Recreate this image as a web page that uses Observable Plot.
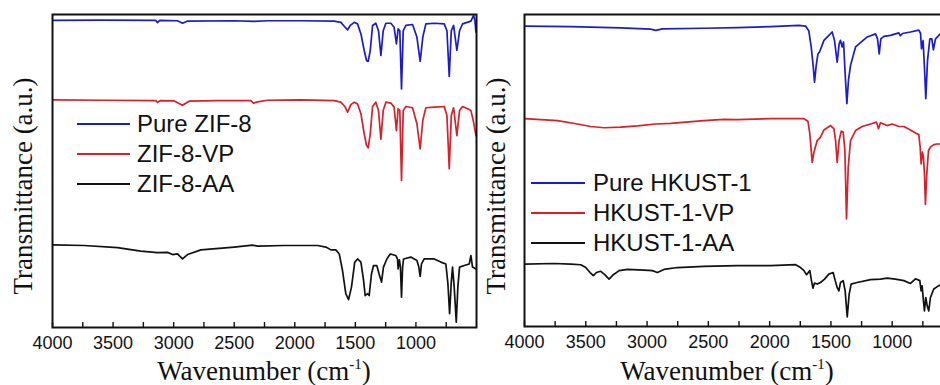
<!DOCTYPE html>
<html>
<head>
<meta charset="utf-8">
<script src="https://cdn.jsdelivr.net/npm/d3@7"></script>
<script src="https://cdn.jsdelivr.net/npm/@observablehq/plot@0.6"></script>
<style>
  html, body { margin: 0; padding: 0; background: #fff; overflow: hidden; }
  #wrap { position: relative; width: 940px; height: 385px; overflow: hidden; }
  .panel { position: absolute; top: 0; }
  .serif { font-family: "Liberation Serif", "Times New Roman", serif; color: #111; position: absolute; white-space: nowrap; line-height: 1; }
  .ytitle { font-size: 27px; transform: translate(-50%, -50%) rotate(-90deg); transform-origin: center; }
  .xtitle { font-size: 27px; transform: translateX(-50%); }
  .xtitle sup { font-size: 15px; vertical-align: 11px; line-height: 0; }
  .leg { position: absolute; font-family: "Liberation Sans", Arial, sans-serif; font-size: 24px; color: #111; white-space: nowrap; }
  .leg .sw { position: absolute; height: 0; border-top: 2px solid; }
  .leg .tx { position: absolute; transform: translateY(-50%); line-height: 1; }
</style>
</head>
<body>
<div id="wrap"></div>
<script>
// ---- Data (wavenumber cm^-1, transmittance a.u.) ----
const majorTicks = [4000, 3500, 3000, 2500, 2000, 1500, 1000];
const minorTicks = [3750, 3250, 2750, 2250, 1750, 1250, 750];

const leftSeriesNames = ["Pure ZIF-8", "ZIF-8-VP", "ZIF-8-AA"];
const rightSeriesNames = ["Pure HKUST-1", "HKUST-1-VP", "HKUST-1-AA"];
const seriesColors = ["#1a1ad2", "#dc1e28", "#111111"];

const zif8Pure = [[4000,98.1],[3601,98.2],[3147,98.1],[3133,97.4],[3117,98.1],[2968,98.0],[2927,97.2],[2885,97.9],[2500,98.0],[2335,97.8],[2225,98.0],[1950,98.0],[1675,97.9],[1620,97.5],[1586,96.0],[1564,95.1],[1542,96.5],[1509,97.5],[1482,97.0],[1454,93.8],[1427,88.5],[1408,85.3],[1394,85.0],[1377,88.5],[1358,96.5],[1331,97.2],[1309,94.8],[1289,86.9],[1270,94.8],[1248,97.2],[1207,97.2],[1180,95.9],[1161,90.6],[1147,95.4],[1133,94.8],[1119,76.2],[1105,94.8],[1083,96.5],[1028,96.8],[992,92.8],[965,85.0],[943,92.8],[918,97.0],[849,97.2],[766,97.0],[744,94.8],[725,80.2],[708,94.8],[689,96.5],[662,88.5],[640,94.8],[615,97.0],[546,97.9],[524,99.7],[513,98.1],[505,94.4]];

const zif8VP = [[4000,72.7],[3601,72.6],[3147,72.5],[3133,71.9],[3111,72.5],[2995,72.4],[2927,71.0],[2872,72.3],[2638,72.5],[2363,72.5],[2341,71.7],[2308,72.1],[2225,72.6],[1950,72.7],[1675,72.5],[1620,72.0],[1586,70.6],[1564,68.8],[1537,71.2],[1509,72.0],[1482,71.4],[1454,68.3],[1427,61.9],[1408,58.2],[1394,57.4],[1377,61.9],[1358,70.6],[1331,72.0],[1309,69.3],[1289,60.2],[1270,69.3],[1248,72.0],[1207,71.7],[1180,70.4],[1161,62.9],[1147,69.9],[1133,69.3],[1119,47.0],[1105,69.3],[1083,70.6],[1028,70.2],[992,65.1],[965,57.1],[943,66.2],[918,70.2],[849,70.4],[766,70.6],[744,67.7],[725,50.7],[708,67.7],[689,70.2],[662,61.3],[640,69.3],[615,70.6],[574,69.9],[546,69.3],[524,65.6],[505,61.3]];

const zif8AA = [[4000,26.4],[3739,26.2],[3463,25.5],[3271,24.4],[3133,23.9],[3051,24.0],[3009,23.3],[2968,23.5],[2927,21.9],[2885,23.3],[2775,24.8],[2500,25.7],[2349,26.3],[2307,26.0],[2087,26.2],[1812,26.2],[1743,25.7],[1702,24.8],[1661,24.8],[1633,23.5],[1606,18.2],[1579,10.8],[1556,8.9],[1532,12.9],[1505,20.9],[1482,21.9],[1454,20.9],[1432,15.0],[1419,10.2],[1399,10.8],[1386,10.2],[1367,17.1],[1350,19.8],[1323,19.8],[1304,17.1],[1284,14.5],[1268,19.3],[1240,21.9],[1212,23.5],[1166,23.0],[1152,21.9],[1147,18.7],[1136,21.6],[1128,19.3],[1119,9.7],[1110,19.3],[1102,21.9],[1042,22.5],[992,21.4],[976,19.3],[965,16.3],[954,20.3],[932,21.9],[849,21.9],[794,20.9],[753,20.3],[736,14.0],[722,4.4],[709,14.0],[698,19.3],[684,12.9],[667,1.7],[654,12.9],[640,19.3],[601,19.8],[560,20.3],[546,23.0],[533,19.3],[505,18.7]];

const hkustPure = [[4000,96.3],[3622,96.1],[3215,95.7],[2970,95.3],[2929,94.9],[2875,95.4],[2536,95.6],[2264,95.8],[1992,96.1],[1761,96.5],[1707,96.3],[1680,94.7],[1661,89.6],[1644,83.2],[1634,78.3],[1620,83.7],[1606,87.4],[1593,88.0],[1557,91.7],[1517,93.3],[1490,94.4],[1471,91.7],[1449,84.7],[1433,90.6],[1422,91.7],[1408,89.6],[1397,91.2],[1384,81.0],[1370,71.4],[1357,78.9],[1340,83.7],[1299,89.6],[1204,92.8],[1136,93.8],[1120,92.2],[1106,87.4],[1093,92.2],[1068,93.0],[1014,93.3],[946,94.1],[933,93.2],[916,93.9],[851,94.4],[783,95.0],[769,94.0],[761,89.0],[748,91.6],[737,83.1],[726,73.0],[712,85.3],[693,92.2],[677,92.2],[664,88.7],[647,92.2],[607,93.8],[566,94.1],[525,94.1]];

const hkustVP = [[4000,66.6],[3731,66.0],[3568,64.9],[3459,64.1],[3351,63.7],[3215,63.9],[3079,64.3],[2929,64.9],[2807,65.1],[2536,66.0],[2373,66.4],[2264,66.3],[1992,66.6],[1720,66.6],[1688,65.8],[1672,61.7],[1653,52.6],[1639,55.8],[1612,59.6],[1585,60.7],[1557,63.0],[1503,64.4],[1476,63.4],[1462,59.6],[1449,52.6],[1433,59.6],[1416,62.6],[1400,62.3],[1386,56.4],[1373,34.5],[1359,51.0],[1340,59.6],[1299,62.8],[1245,64.1],[1177,64.9],[1128,65.5],[1112,63.4],[1096,65.3],[1042,64.4],[1000,64.9],[946,64.1],[905,64.1],[851,63.0],[810,62.0],[783,61.5],[772,57.5],[764,52.1],[753,55.9],[745,54.3],[737,48.9],[729,39.1],[718,48.9],[704,56.4],[688,57.5],[661,58.3],[634,58.5],[607,58.5],[525,58.3]];

const hkustAA = [[4000,20.0],[3758,20.2],[3622,20.0],[3541,19.8],[3500,18.9],[3465,17.3],[3438,16.3],[3413,17.3],[3378,17.7],[3345,16.6],[3310,15.2],[3275,16.6],[3228,17.9],[3160,18.3],[3025,18.1],[2957,17.9],[2916,17.3],[2862,18.3],[2753,18.9],[2536,19.3],[2264,19.5],[1992,19.5],[1788,19.8],[1748,18.9],[1720,17.9],[1699,16.6],[1672,17.9],[1661,15.2],[1647,12.3],[1634,13.9],[1612,13.6],[1585,14.1],[1552,15.2],[1517,16.8],[1482,17.3],[1465,14.7],[1449,12.5],[1435,11.4],[1422,14.1],[1400,14.7],[1384,11.4],[1367,3.1],[1351,10.4],[1335,13.6],[1286,14.1],[1177,15.0],[1096,15.2],[1042,15.5],[974,15.2],[905,14.7],[851,13.8],[810,15.3],[775,14.7],[764,11.4],[756,13.0],[745,8.2],[737,5.0],[726,9.3],[715,6.7],[702,5.0],[688,9.3],[661,12.0],[620,13.1],[566,13.6],[525,13.6]];

// ---- Build ----
const wrap = document.getElementById("wrap");

function toRows(arr, name) { return arr.map(([wn, t]) => ({wn, t, name})); }

function makePanel({series, names, left, width, marginLeft, marginBottom}) {
  const H = 385, marginTop = 14;
  const frameH = H - marginTop - marginBottom;
  const rows = series.flatMap((s, i) => toRows(s, names[i]));
  const chart = Plot.plot({
    width, height: H,
    marginLeft, marginRight: 4, marginTop, marginBottom,
    style: {background: "transparent", color: "#111", fontFamily: "'Liberation Sans', Arial, sans-serif"},
    x: {domain: [4000, 500]},
    y: {domain: [0, 100], axis: null},
    color: {domain: names, range: seriesColors},
    marks: [
      Plot.line(rows, {x: "wn", y: "t", z: "name", stroke: "name", strokeWidth: 1.7, clip: true}),
      Plot.ruleX(majorTicks.concat(minorTicks), {x: d => d, insetTop: frameH - 5, stroke: "#111", strokeWidth: 1.4}),
      Plot.axisX({ticks: majorTicks, tickSize: 0, tickPadding: 9, fontSize: 18, tickFormat: d => String(d), label: null}),
      Plot.frame({stroke: "#111", strokeWidth: 2})
    ]
  });
  chart.classList.add("panel");
  chart.style.left = left + "px";
  wrap.appendChild(chart);
}

makePanel({series: [zif8Pure, zif8VP, zif8AA], names: leftSeriesNames, left: 0, width: 480, marginLeft: 52, marginBottom: 58});
makePanel({series: [hkustPure, hkustVP, hkustAA], names: rightSeriesNames, left: 470, width: 487, marginLeft: 54, marginBottom: 59});

// ---- Titles ----
function addText(cls, html, x, y) {
  const d = document.createElement("div");
  d.className = "serif " + cls;
  d.innerHTML = html;
  d.style.left = x + "px";
  d.style.top = y + "px";
  wrap.appendChild(d);
}
addText("ytitle", "Transmittance (a.u.)", 23, 186);
addText("ytitle", "Transmittance (a.u.)", 496, 186);
addText("xtitle", "Wavenumber (cm<sup>-1</sup>)", 264, 358);
addText("xtitle", "Wavenumber (cm<sup>-1</sup>)", 727, 358);

// ---- Legends ----
function addLegend(names, x0, x1, tx, ys) {
  names.forEach((n, i) => {
    const g = document.createElement("div");
    g.className = "leg";
    g.style.left = "0px"; g.style.top = "0px";
    const sw = document.createElement("div");
    sw.className = "sw";
    sw.style.left = x0 + "px"; sw.style.width = (x1 - x0) + "px";
    sw.style.top = (ys[i] - 1) + "px";
    sw.style.borderColor = seriesColors[i];
    const t = document.createElement("div");
    t.className = "tx";
    t.textContent = n;
    t.style.left = tx + "px"; t.style.top = ys[i] + "px";
    g.appendChild(sw); g.appendChild(t);
    wrap.appendChild(g);
  });
}
addLegend(leftSeriesNames, 77, 130, 137, [124, 154, 184]);
addLegend(rightSeriesNames, 531, 585, 593, [183, 213, 243]);
</script>
</body>
</html>
